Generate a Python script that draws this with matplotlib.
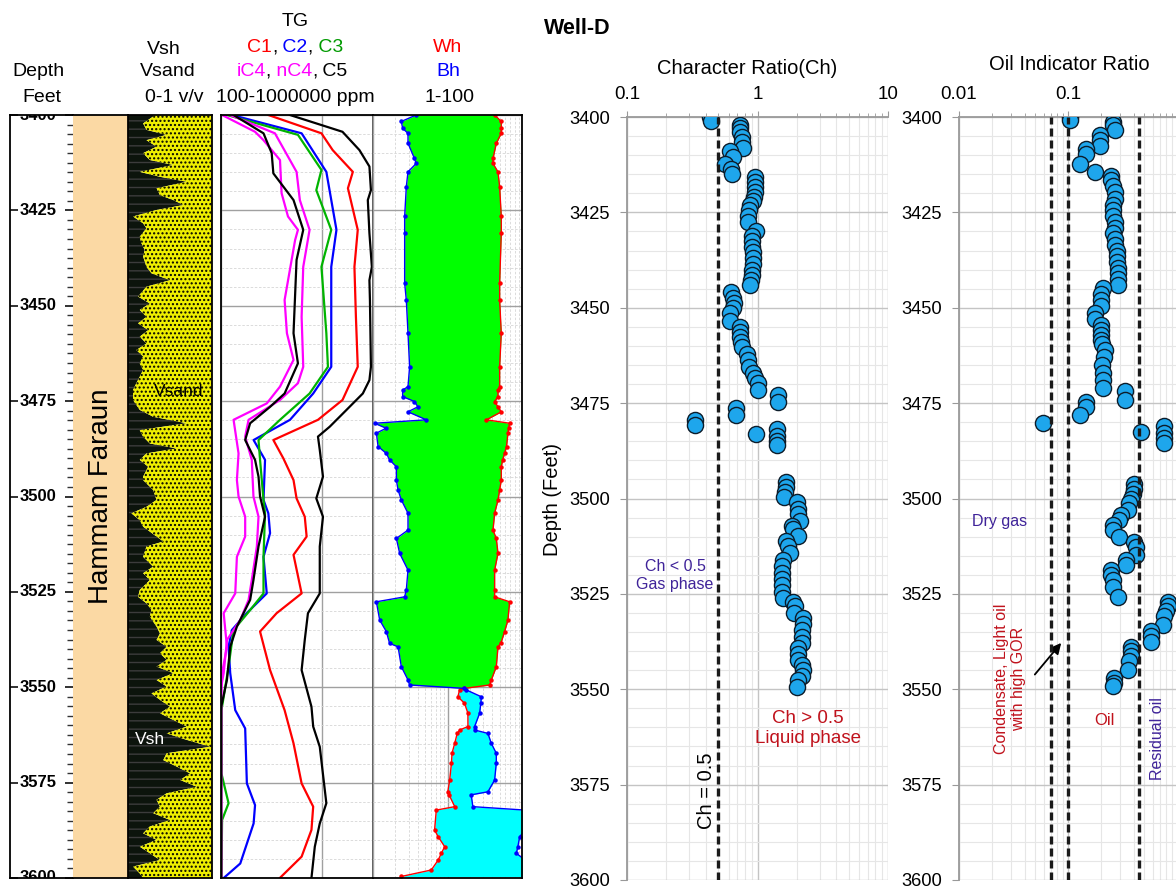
import numpy as np
import matplotlib
matplotlib.use("Agg")
import matplotlib.pyplot as plt
from matplotlib.ticker import (LogLocator, MultipleLocator, FixedLocator,
                               FuncFormatter, NullFormatter)

plt.rcParams['font.family'] = ['Liberation Sans', 'DejaVu Sans']
plt.rcParams['hatch.linewidth'] = 1.0

# ---------------------------------------------------------------- data
depth_ticks = [3400, 3425, 3450, 3475, 3500, 3525, 3550, 3575, 3600]
formation_name = "Hammam Faraun"
formation_top, formation_base = 3400, 3600

# shale volume (v/v)
vsh_depth = [3400.0, 3400.4, 3402.2, 3403.9, 3405.2, 3406.6, 3408.3, 3410.0, 3411.8, 3413.1,
             3414.9, 3416.2, 3417.5, 3419.2, 3421.0, 3422.3, 3423.6, 3424.9, 3426.6, 3428.4,
             3429.7, 3431.9, 3433.6, 3435.4, 3437.1, 3439.8, 3441.5, 3443.3, 3445.0, 3447.6,
             3449.4, 3451.1, 3452.9, 3454.6, 3456.4, 3458.1, 3459.9, 3461.6, 3463.3, 3465.1,
             3466.8, 3468.6, 3470.3, 3472.1, 3474.7, 3477.3, 3479.1, 3480.8, 3482.6, 3484.3,
             3486.1, 3487.4, 3488.7, 3490.4, 3492.2, 3494.8, 3495.7, 3498.3, 3500.9, 3502.7,
             3504.4, 3506.2, 3507.9, 3510.5, 3511.8, 3513.1, 3515.8, 3518.4, 3520.1, 3521.9,
             3524.5, 3526.3, 3528.0, 3529.7, 3531.5, 3534.1, 3535.9, 3537.6, 3539.4, 3541.1,
             3542.8, 3544.6, 3546.3, 3548.1, 3549.8, 3551.6, 3553.3, 3555.1, 3556.8, 3558.6,
             3560.3, 3562.1, 3563.8, 3565.6, 3567.3, 3569.1, 3570.8, 3572.6, 3574.3, 3576.1,
             3577.8, 3579.5, 3581.3, 3583.0, 3584.8, 3586.5, 3588.3, 3590.0, 3591.8, 3593.5,
             3595.3, 3597.0, 3598.8, 3600.0]
vsh = [0.30, 0.30, 0.18, 0.22, 0.46, 0.22, 0.34, 0.18, 0.26, 0.54,
       0.14, 0.38, 0.70, 0.34, 0.38, 0.54, 0.66, 0.34, 0.06, 0.18,
       0.22, 0.14, 0.16, 0.20, 0.18, 0.22, 0.28, 0.50, 0.22, 0.12,
       0.26, 0.14, 0.22, 0.12, 0.24, 0.14, 0.22, 0.10, 0.18, 0.14,
       0.18, 0.14, 0.10, 0.06, 0.06, 0.14, 0.30, 0.70, 0.14, 0.18,
       0.26, 0.58, 0.22, 0.14, 0.24, 0.18, 0.18, 0.30, 0.34, 0.22,
       0.04, 0.14, 0.18, 0.34, 0.42, 0.22, 0.18, 0.30, 0.18, 0.26,
       0.14, 0.12, 0.22, 0.28, 0.26, 0.34, 0.38, 0.34, 0.46, 0.38,
       0.46, 0.34, 0.54, 0.34, 0.46, 0.28, 0.38, 0.50, 0.38, 0.54,
       0.70, 0.46, 0.70, 0.98, 0.46, 0.42, 0.58, 0.74, 0.62, 0.82,
       0.46, 0.34, 0.38, 0.30, 0.50, 0.26, 0.18, 0.34, 0.14, 0.26,
       0.38, 0.06, 0.14, 0.18]

# mud-log gas (ppm)
tg_depth = [3400.0, 3404.4, 3409.2, 3413.5, 3419.7, 3422.3, 3431.0, 3439.8, 3443.3, 3448.5,
            3466.0, 3469.5, 3473.0, 3477.3, 3481.7, 3484.3, 3487.8, 3494.8, 3500.5, 3505.3,
            3513.1, 3525.4, 3530.6, 3537.6, 3545.5, 3555.1, 3560.3, 3565.6, 3580.4, 3585.7,
            3591.8, 3600.0]
tg_ppm = [2300, 25000, 54000, 85000, 91000, 79000, 85000, 95000, 85000, 87000,
          91000, 85000, 63000, 30000, 14000, 8200, 8900, 10300, 7600, 10300,
          8900, 8900, 5200, 4500, 3900, 6100, 6600, 8900, 12000, 8900,
          7100, 6100]

c1_depth = [3400.0, 3404.8, 3409.2, 3414.9, 3419.2, 3430.1, 3439.8, 3452.9, 3466.0, 3474.7,
            3479.9, 3485.2, 3490.0, 3495.7, 3500.5, 3505.3, 3510.5, 3515.3, 3525.4, 3530.6,
            3535.4, 3545.5, 3556.0, 3564.7, 3575.2, 3581.3, 3587.4, 3594.4, 3600.0]
c1_ppm = [860, 9600, 16000, 40000, 32000, 50000, 43000, 46000, 50000, 25000,
          8200, 1080, 1700, 2700, 3100, 4500, 4900, 2700, 3900, 1250,
          590, 930, 1800, 2700, 3900, 6600, 6100, 3900, 1450]

c2_depth = [3400.0, 3404.8, 3414.9, 3430.1, 3439.8, 3466.0, 3473.0, 3479.9, 3485.2, 3490.4,
            3500.9, 3504.4, 3509.6, 3515.8, 3525.4, 3530.6, 3535.0, 3539.4, 3546.3, 3556.0,
            3560.8, 3575.2, 3580.9, 3585.7, 3596.2, 3600.0]
c2_ppm = [164, 3900, 12000, 19000, 15000, 15000, 6600, 2300, 440, 740,
          690, 860, 930, 690, 800, 320, 164, 141, 152, 191,
          300, 324, 470, 440, 240, 113]

c3_depth = [3400.0, 3405.2, 3414.4, 3419.7, 3430.1, 3439.8, 3457.2, 3466.0, 3473.0, 3479.9,
            3485.2, 3490.4, 3500.9, 3504.4, 3515.8, 3525.4, 3529.7, 3535.0, 3544.6, 3552.5,
            3556.0, 3572.6, 3580.4, 3584.8, 3600.0]
c3_ppm = [131, 3300, 9600, 7600, 15000, 9600, 12000, 12900, 5600, 1460,
          550, 590, 690, 740, 690, 690, 380, 177, 141, 113,
          102, 102, 141, 105, 102]

ic4_depth = [3400.0, 3404.4, 3406.6, 3411.8, 3420.5, 3426.6, 3430.1, 3432.8, 3448.5, 3457.2,
             3464.2, 3471.2, 3475.6, 3479.9, 3488.7, 3495.7, 3500.0, 3505.3, 3510.5, 3515.8,
             3525.4, 3530.6, 3539.4, 3546.3, 3552.5, 3600.0]
ic4_ppm = [105, 470, 690, 1460, 1570, 2100, 3300, 2900, 1800, 2000,
           2700, 1460, 800, 177, 222, 206, 222, 300, 300, 206,
           191, 113, 131, 105, 101, 101]

nc4_depth = [3400.0, 3404.8, 3414.9, 3422.3, 3430.1, 3439.8, 3452.9, 3466.0, 3470.3, 3474.7,
             3479.9, 3484.3, 3490.4, 3500.0, 3505.3, 3513.1, 3521.9, 3527.1, 3532.4, 3537.6,
             3546.3, 3549.8, 3600.0]
nc4_ppm = [152, 1160, 3100, 3600, 5600, 4200, 3900, 4200, 3300, 1460,
           350, 300, 405, 437, 550, 510, 405, 350, 240, 131,
           113, 101, 101]

c5_depth = [3400.0, 3404.8, 3410.0, 3415.3, 3422.3, 3430.1, 3438.0, 3457.2, 3465.1, 3473.0,
            3476.5, 3480.8, 3485.2, 3490.4, 3494.8, 3500.0, 3505.3, 3513.1, 3521.9, 3527.1,
            3534.1, 3539.4, 3548.1, 3555.1, 3600.0]
c5_ppm = [177, 690, 1000, 1080, 2700, 4200, 3100, 2700, 3300, 1800,
          930, 376, 300, 470, 550, 590, 740, 550, 437, 376,
          206, 152, 131, 101, 101]

# wetness (Wh) and balance (Bh) ratios
hc_depth = [3400.0, 3401.7, 3403.5, 3404.8, 3407.4, 3411.4, 3412.7, 3414.9, 3418.8, 3426.6,
            3431.0, 3444.1, 3448.5, 3457.2, 3466.0, 3471.2, 3472.1, 3473.8, 3475.1, 3476.5,
            3477.8, 3479.9, 3480.8, 3482.1, 3483.4, 3486.9, 3488.7, 3490.4, 3492.2, 3495.7,
            3498.3, 3500.9, 3504.4, 3508.8, 3511.0, 3514.9, 3519.3, 3524.5, 3526.3, 3527.6,
            3532.4, 3535.4, 3538.5, 3539.4, 3544.6, 3548.1, 3549.4, 3550.3, 3550.7, 3552.5,
            3554.2, 3556.8, 3560.3, 3561.2, 3562.1, 3564.7, 3567.3, 3569.9, 3574.3, 3577.4,
            3578.2, 3581.3, 3582.2, 3587.4, 3589.2, 3591.8, 3593.5, 3595.3, 3597.9, 3599.6]
bh = [3.8, 2.4, 2.5, 2.95, 2.95, 3.6, 3.8, 2.95, 2.8, 2.66,
      2.66, 2.66, 2.8, 2.95, 3.1, 2.95, 2.5, 2.5, 3.6, 4.0,
      2.95, 5.2, 1.05, 1.5, 1.11, 1.17, 1.51, 1.67, 2.06, 2.06,
      2.17, 2.4, 2.95, 2.95, 2.06, 2.28, 2.95, 2.8, 2.66, 1.11,
      1.23, 1.51, 1.67, 2.17, 2.4, 2.95, 3.1, 16.9, 17.9, 28.5,
      28.0, 27.0, 23.1, 23.1, 34.9, 38.7, 45.2, 45.2, 42.9, 34.9,
      20.8, 21.9, 110, 110, 93.0, 88.0, 83.9, 110, 110, 110]
wh = [42.9, 52.7, 52.7, 52.7, 45.2, 40.8, 40.8, 47.6, 50.1, 52.7,
      52.7, 50.1, 50.1, 52.7, 50.1, 50.1, 47.6, 47.6, 42.9, 47.6,
      52.7, 33.3, 68.2, 66.0, 64.7, 62.0, 58.4, 55.0, 52.7, 52.7,
      50.1, 47.6, 42.9, 40.8, 45.2, 47.6, 42.9, 42.9, 42.9, 68.2,
      64.7, 58.4, 52.0, 47.6, 45.2, 38.7, 36.8, 16.9, 14.5, 13.8,
      16.9, 18.8, 18.8, 14.6, 13.5, 12.5, 11.5, 11.3, 10.7, 10.1,
      10.5, 12.5, 7.07, 6.71, 7.5, 9.17, 8.27, 7.5, 6.06, 2.4]

# character ratio
ch_depth = [3400.0, 3401.0, 3402.2, 3403.0, 3404.0, 3405.3, 3406.6, 3408.0, 3408.8, 3410.5,
            3412.3, 3413.6, 3414.9, 3415.8, 3417.0, 3418.3, 3419.6, 3421.0, 3422.0, 3423.0,
            3424.5, 3426.0, 3427.6, 3430.0, 3431.2, 3432.5, 3434.0, 3435.5, 3437.0, 3438.5,
            3440.0, 3441.5, 3442.8, 3444.0, 3446.0, 3447.4, 3448.7, 3450.0, 3451.5, 3453.5,
            3455.0, 3456.3, 3457.6, 3459.0, 3460.3, 3462.0, 3463.8, 3465.5, 3467.0, 3468.3,
            3469.8, 3471.5, 3473.0, 3474.6, 3476.3, 3478.0, 3479.4, 3480.7, 3483.0, 3481.8,
            3483.5, 3484.8, 3486.0, 3495.8, 3497.1, 3498.4, 3499.7, 3501.0, 3502.8, 3504.1,
            3505.9, 3507.2, 3508.0, 3509.9, 3511.2, 3512.5, 3514.3, 3516.0, 3517.7, 3519.4,
            3521.1, 3522.8, 3524.5, 3526.0, 3527.0, 3528.3, 3530.0, 3531.4, 3533.0, 3534.6,
            3536.3, 3538.0, 3539.2, 3540.8, 3542.4, 3543.7, 3545.0, 3546.4, 3547.7, 3549.5]
ch = [0.43, 0.44, 0.73, 0.73, 0.74, 0.76, 0.76, 0.77, 0.62, 0.65,
      0.56, 0.63, 0.64, 0.95, 0.95, 0.96, 0.95, 0.94, 0.93, 0.88,
      0.86, 0.84, 0.85, 0.98, 0.90, 0.90, 0.91, 0.92, 0.93, 0.92,
      0.91, 0.90, 0.89, 0.88, 0.63, 0.65, 0.66, 0.65, 0.62, 0.62,
      0.73, 0.74, 0.74, 0.75, 0.76, 0.83, 0.84, 0.86, 0.93, 0.95,
      1.00, 1.00, 1.44, 1.44, 0.69, 0.69, 0.33, 0.33, 0.98, 1.40,
      1.40, 1.40, 1.40, 1.66, 1.66, 1.63, 1.60, 1.99, 2.05, 2.05,
      2.10, 1.83, 1.87, 2.05, 1.66, 1.72, 1.77, 1.58, 1.55, 1.53,
      1.53, 1.53, 1.55, 1.58, 1.87, 1.95, 1.92, 2.25, 2.25, 2.20,
      2.20, 2.18, 2.05, 2.05, 2.05, 2.20, 2.25, 2.20, 2.05, 2.00]
ch_cutoff = 0.5

# oil indicator ratio
oir_depth = [3400.0, 3400.9, 3401.3, 3402.2, 3403.5, 3404.8, 3406.0, 3407.5, 3408.3, 3409.6,
             3412.3, 3414.5, 3415.4, 3416.6, 3418.0, 3419.7, 3421.5, 3423.0, 3424.5, 3426.0,
             3427.5, 3429.0, 3430.5, 3432.0, 3433.5, 3435.0, 3436.5, 3438.0, 3439.5, 3441.0,
             3442.5, 3444.0, 3444.7, 3446.3, 3448.0, 3449.6, 3451.3, 3453.0, 3454.4, 3455.8,
             3457.2, 3458.5, 3459.6, 3461.0, 3463.0, 3465.0, 3467.0, 3469.0, 3471.0, 3471.9,
             3474.1, 3474.6, 3475.9, 3478.1, 3480.3, 3482.5, 3481.1, 3482.9, 3484.2, 3485.5,
             3496.1, 3497.4, 3498.7, 3500.0, 3501.3, 3503.0, 3504.4, 3505.7, 3507.0, 3508.3,
             3510.0, 3511.3, 3512.6, 3514.8, 3516.1, 3517.4, 3518.7, 3520.0, 3521.3, 3523.1,
             3525.7, 3527.0, 3528.3, 3529.6, 3530.9, 3533.1, 3534.8, 3536.1, 3537.5, 3538.8,
             3540.1, 3541.4, 3542.7, 3544.9, 3547.0, 3548.3, 3549.2]
oir = [0.104, 0.104, 0.258, 0.258, 0.268, 0.195, 0.195, 0.195, 0.147, 0.145,
       0.128, 0.176, 0.25, 0.25, 0.26, 0.27, 0.27, 0.26, 0.26, 0.26,
       0.27, 0.27, 0.26, 0.27, 0.27, 0.28, 0.28, 0.28, 0.29, 0.29,
       0.29, 0.29, 0.21, 0.20, 0.20, 0.20, 0.176, 0.176, 0.20, 0.20,
       0.20, 0.20, 0.205, 0.22, 0.215, 0.205, 0.21, 0.21, 0.21, 0.336,
       0.336, 0.147, 0.147, 0.128, 0.059, 0.469, 0.766, 0.766, 0.766, 0.766,
       0.407, 0.407, 0.393, 0.38, 0.366, 0.354, 0.307, 0.297, 0.258, 0.258,
       0.297, 0.407, 0.422, 0.422, 0.342, 0.342, 0.249, 0.249, 0.258, 0.258,
       0.287, 0.822, 0.822, 0.793, 0.766, 0.739, 0.578, 0.578, 0.578, 0.38,
       0.38, 0.38, 0.366, 0.354, 0.267, 0.267, 0.258]
oir_cutoffs = [0.07, 0.1, 0.45]

# ---------------------------------------------------------------- layout
W, H = 1176, 889
fig = plt.figure(figsize=(W / 100, H / 100), dpi=100)
fig.patch.set_facecolor('white')


def px_box(x0, y0, x1, y1):
    return [x0 / W, 1 - y1 / H, (x1 - x0) / W, (y1 - y0) / H]


TOP, BOT = 115, 878
D0, D1 = depth_ticks[0], depth_ticks[-1]

ax_dep = fig.add_axes(px_box(10, TOP, 73, BOT))
ax_for = fig.add_axes(px_box(73, TOP, 128, BOT))
ax_vsh = fig.add_axes(px_box(128, TOP, 212, BOT))
ax_tg = fig.add_axes(px_box(221, TOP, 373, BOT))
ax_hc = fig.add_axes(px_box(373, TOP, 522, BOT))
ax_ch = fig.add_axes(px_box(627, 117, 888, 880))
ax_oi = fig.add_axes(px_box(959, 117, 1176, 880))

for ax in (ax_dep, ax_for, ax_vsh, ax_tg, ax_hc):
    ax.set_ylim(D1, D0)
    for sp in ax.spines.values():
        sp.set_color('black')
        sp.set_linewidth(1.3)

# ---- depth column
ax_dep.set_xlim(0, 1)
ax_dep.set_xticks([])
ax_dep.yaxis.set_major_locator(FixedLocator(depth_ticks))
ax_dep.yaxis.set_minor_locator(MultipleLocator(2.5))
ax_dep.tick_params(axis='y', which='major', left=True, right=True, direction='in',
                   length=6, width=1.3, labelleft=False, color='#222222')
ax_dep.tick_params(axis='y', which='minor', left=False, right=True, direction='in',
                   length=4, width=1.0, color='#333333')
ax_dep.spines['right'].set_visible(False)
for d in depth_ticks:
    ax_dep.text(0.44, d, str(d), ha='center', va='center', fontsize=12,
                fontweight='bold', clip_on=True)

# ---- formation column
ax_for.set_xlim(0, 1)
ax_for.set_xticks([])
ax_for.set_yticks([])
ax_for.axhspan(formation_top, formation_base, color='#fbd9a4', lw=0)
ax_for.spines['left'].set_visible(False)
ax_for.spines['right'].set_visible(False)
ax_for.text(0.5, (formation_top + formation_base) / 2, formation_name, rotation=90,
            ha='center', va='center', fontsize=20)

# ---- Vsh / Vsand column
ax_vsh.set_xlim(0, 1)
ax_vsh.set_xticks([])
ax_vsh.set_yticks([])
ax_vsh.fill_betweenx(vsh_depth, 0, vsh, facecolor='#0c140c', edgecolor='#3c3c3c',
                     hatch='--', linewidth=0)
ax_vsh.fill_betweenx(vsh_depth, vsh, 1, facecolor='#eeee00', edgecolor='black',
                     hatch='....', linewidth=0)
ax_vsh.text(0.6, 3472.6, 'Vsand', ha='center', va='center', fontsize=12.5, color='black')
ax_vsh.text(0.26, 3563.8, 'Vsh', ha='center', va='center', fontsize=12.5, color='white')


def log_track_grid(ax):
    ax.xaxis.set_major_locator(LogLocator(base=10))
    ax.xaxis.set_minor_locator(LogLocator(base=10, subs=np.arange(2, 10)))
    ax.yaxis.set_major_locator(MultipleLocator(25))
    ax.yaxis.set_minor_locator(MultipleLocator(5))
    ax.grid(which='major', color='#a0a0a0', lw=1.0)
    ax.grid(which='minor', color='#d6d6d6', lw=0.6, ls=(0, (3, 2)))
    ax.tick_params(which='both', length=0, labelbottom=False, labelleft=False)
    ax.set_axisbelow(True)


# ---- gas track
ax_tg.set_xscale('log')
ax_tg.set_xlim(1e2, 1e5)
log_track_grid(ax_tg)
gas_curves = [(tg_depth, tg_ppm, 'black'),
              (c1_depth, c1_ppm, '#ff0000'),
              (c2_depth, c2_ppm, '#0000ff'),
              (c3_depth, c3_ppm, '#00b400'),
              (ic4_depth, ic4_ppm, '#ff00ff'),
              (nc4_depth, nc4_ppm, '#ff00ff'),
              (c5_depth, c5_ppm, 'black')]
for dd, vv, cc in gas_curves:
    ax_tg.plot(vv, dd, color=cc, lw=1.6)
ax_tg.spines['right'].set_color('#555555')

# ---- Wh / Bh track
ax_hc.set_xscale('log')
ax_hc.set_xlim(1, 100)
log_track_grid(ax_hc)
hd = np.array(hc_depth)
wh_a = np.array(wh)
bh_a = np.array(bh)
ax_hc.fill_betweenx(hd, bh_a, wh_a, where=wh_a >= bh_a, interpolate=True,
                    color='#00ff00', lw=0)
ax_hc.fill_betweenx(hd, bh_a, wh_a, where=wh_a < bh_a, interpolate=True,
                    color='#00ffff', lw=0)
ax_hc.plot(wh_a, hd, color='#ff0000', lw=1.0, marker='o', ms=2.2)
ax_hc.plot(bh_a, hd, color='#0000ff', lw=1.0, marker='o', ms=2.2)
ax_hc.spines['left'].set_visible(False)

# ---- headers of the log tracks
hdr = 14


def ftext(x, y, s, **kw):
    return fig.text(x / W, 1 - y / H, s, ha='center', va='center', fontsize=hdr, **kw)


def colored_line(xc, y, parts, size=hdr):
    renderer = fig.canvas.get_renderer()
    texts = [fig.text(0, 1 - y / H, s, color=c, fontsize=size, ha='left', va='center')
             for s, c in parts]
    widths = [t.get_window_extent(renderer).width for t in texts]
    x = xc - sum(widths) / 2
    for t, w in zip(texts, widths):
        t.set_x(x / W)
        x += w


ftext(38, 72, 'Depth')
ftext(42, 97, 'Feet')
ftext(164, 50, 'Vsh')
ftext(168, 72, 'Vsand')
ftext(174, 97, '0-1 v/v')
ftext(295, 22, 'TG')
colored_line(295, 48, [('C1', '#ff0000'), (',', 'black'), (' C2', '#0000ff'),
                       (',', 'black'), (' C3', '#009a00')])
colored_line(292, 72, [('iC4', '#ff00ff'), (',', 'black'), (' nC4', '#ff00ff'),
                       (',', 'black'), (' C5', 'black')])
ftext(295, 97, '100-1000000 ppm')
ftext(448, 48, 'Wh', color='#ff0000')
ftext(448, 72, 'Bh', color='#0000ff')
ftext(449, 97, '1-100')

fig.text(577 / W, 1 - 28 / H, 'Well-D', ha='center', va='center', fontsize=15.5,
         fontweight='bold')

# ---------------------------------------------------------------- ratio plots
point_face = '#1ea6ec'
point_edge = '#0c1c2a'
dash_style = (0, (2.4, 1.2))
purple = '#3f2399'
darkred = '#c0121c'


def ratio_axes(ax, xlim):
    ax.set_xscale('log')
    ax.set_xlim(*xlim)
    ax.set_ylim(D1, D0)
    ax.xaxis.tick_top()
    ax.xaxis.set_major_locator(LogLocator(base=10))
    ax.xaxis.set_minor_locator(LogLocator(base=10, subs=np.arange(2, 10)))
    ax.xaxis.set_major_formatter(FuncFormatter(lambda v, p: f'{v:g}'))
    ax.xaxis.set_minor_formatter(NullFormatter())
    ax.yaxis.set_major_locator(FixedLocator(depth_ticks))
    ax.yaxis.set_minor_locator(MultipleLocator(5))
    ax.tick_params(axis='x', which='major', length=4, color='#999999', labelsize=13.5, pad=6)
    ax.tick_params(axis='x', which='minor', length=3, color='#999999')
    ax.tick_params(axis='y', which='major', length=5, color='#999999', labelsize=13.2, pad=7)
    ax.tick_params(axis='y', which='minor', length=0)
    ax.grid(which='major', color='#c4c4c4', lw=1.0)
    ax.grid(which='minor', color='#e6e6e6', lw=0.8)
    ax.set_axisbelow(True)
    for side in ('right', 'bottom'):
        ax.spines[side].set_visible(False)
    for side in ('left', 'top'):
        ax.spines[side].set_color('#9a9a9a')
        ax.spines[side].set_linewidth(1.3)


# ---- character ratio
ratio_axes(ax_ch, (0.1, 10))
ax_ch.scatter(ch, ch_depth, s=135, c=point_face, edgecolors=point_edge, linewidths=1.0,
              zorder=3, clip_on=True)
ax_ch.axvline(ch_cutoff, color='#1a1a1a', lw=2.4, ls=dash_style, zorder=4)
ax_ch.text(0.233, 3520.3, f'Ch < {ch_cutoff:g}\nGas phase', ha='center', va='center',
           fontsize=11.5, color=purple, linespacing=1.25)
ax_ch.text(2.44, 3560.3, f'Ch > {ch_cutoff:g}\nLiquid phase', ha='center', va='center',
           fontsize=13.5, color=darkred, linespacing=1.25)
ax_ch.text(0.41, 3576.7, f'Ch = {ch_cutoff:g}', ha='center', va='center', rotation=90,
           fontsize=14.5, color='black')
fig.text(747 / W, 1 - 68 / H, 'Character Ratio(Ch)', ha='center', va='center', fontsize=14.5)
fig.text(553 / W, 1 - 499 / H, 'Depth (Feet)', ha='center', va='center', rotation=90,
         fontsize=14.5)

# ---- oil indicator ratio
ratio_axes(ax_oi, (0.01, 0.98))
ax_oi.scatter(oir, oir_depth, s=135, c=point_face, edgecolors=point_edge, linewidths=1.0,
              zorder=3)
for cv in oir_cutoffs:
    ax_oi.axvline(cv, color='#1a1a1a', lw=2.4, ls=dash_style, zorder=4)
ax_oi.text(0.0237, 3505.9, 'Dry gas', ha='center', va='center', fontsize=11.5, color=purple)
ax_oi.text(0.0294, 3547.2, 'Condensate, Light oil\nwith high GOR', ha='center', va='center',
           rotation=90, fontsize=11.5, color=darkred, multialignment='center', linespacing=1.2)
ax_oi.annotate('', xy=(0.090, 3537.3), xytext=(0.0478, 3546.7),
               arrowprops=dict(arrowstyle='-|>', color='black', lw=1.3, mutation_scale=16))
ax_oi.text(0.218, 3558.2, 'Oil', ha='center', va='center', fontsize=12, color=darkred)
ax_oi.text(0.656, 3562.9, 'Residual oil', ha='center', va='center', rotation=90,
           fontsize=11.5, color=purple)
fig.text(1069 / W, 1 - 65 / H, 'Oil Indicator Ratio', ha='center', va='center', fontsize=14.5)

fig.savefig('out.png', dpi=100, facecolor='white')
